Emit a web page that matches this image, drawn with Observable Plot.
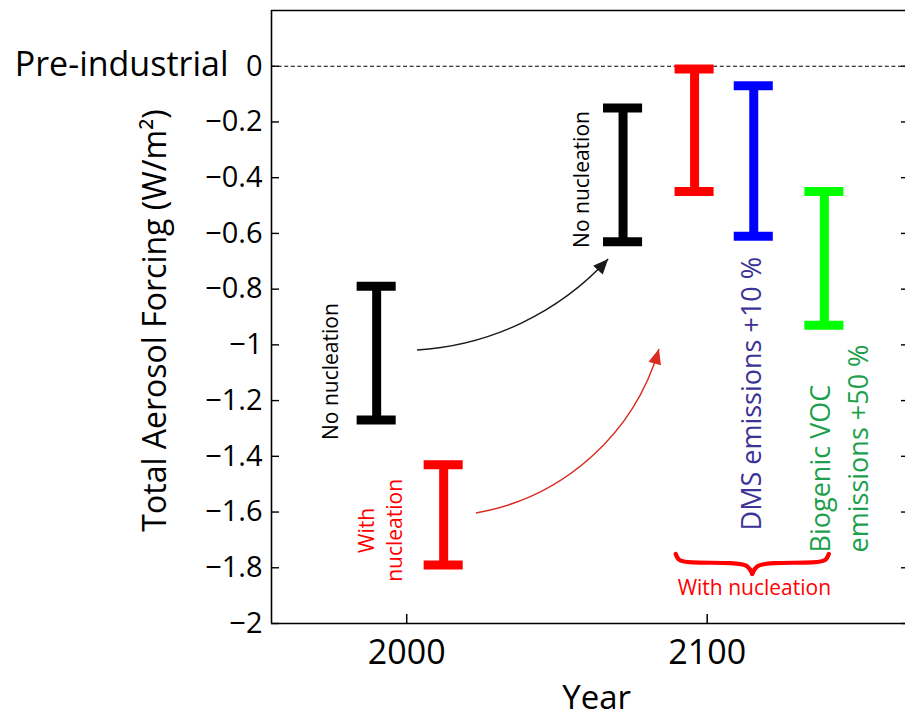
<!DOCTYPE html>
<html>
<head>
<meta charset="utf-8">
<script src="https://cdn.jsdelivr.net/npm/d3@7"></script>
<script src="https://cdn.jsdelivr.net/npm/@observablehq/plot@0.6"></script>
<style>
  html, body { margin: 0; padding: 0; background: #fff; }
  #chart svg { display: block; }
</style>
</head>
<body>
<div id="chart"></div>
<script>
// ---- data ----
const barYears  = [1990, 2012.3, 2072, 2095.8, 2115.5, 2139];
const barLow    = [-1.27, -1.79, -0.63, -0.45, -0.61, -0.93];
const barHigh   = [-0.79, -1.43, -0.15, -0.01, -0.07, -0.45];
const barColors = ["#000000", "#ff0000", "#000000", "#ff0000", "#0000ff", "#00ff00"];

const yTicks = [0, -0.2, -0.4, -0.6, -0.8, -1, -1.2, -1.4, -1.6, -1.8, -2];
const xTicks = [2000, 2100];
const xDomain = [1955, 2166];
const yDomain = [-2, 0.2];

// annotation arrows (from / to, in data units)
const arrowFromYear  = [2003.6, 2023.2];
const arrowFromValue = [-1.02, -1.605];
const arrowToYear    = [2067.2, 2084.1];
const arrowToValue   = [-0.694, -1.017];
const arrowBend      = [22, 32];
const arrowColors    = ["#1a1a1a", "#d92b1f"];

// curly brace under the 2100 "with nucleation" group
const braceYears  = [2089.5, 2090.3, 2092.5, 2110, 2113.8, 2115, 2115, 2116.2, 2120, 2137.5, 2139.7, 2140.5];
const braceValues = [-1.750, -1.772, -1.782, -1.782, -1.792, -1.822, -1.822, -1.792, -1.782, -1.782, -1.772, -1.750];
const braceSide   = ["L", "L", "L", "L", "L", "L", "R", "R", "R", "R", "R", "R"];

// annotation texts
const noteTexts  = ["No nucleation", "With\nnucleation", "No nucleation", "DMS emissions +10 %", "Biogenic VOC\nemissions +50 %", "With nucleation"];
const noteYears  = [1974.0, 1990.9, 2057.8, 2113.7, 2143.1, 2115.7];
const noteValues = [-1.096, -1.666, -0.4065, -1.666, -1.745, -1.874];
const noteColors = ["#000000", "#ff0000", "#000000", "#3b3396", "#1d9f4c", "#ff0000"];

const yTitle = "Total Aerosol Forcing (W/m²)";
const xTitle = "Year";
const refLabel = "Pre-industrial";

// ---- build tables ----
const bars = barYears.map((x, i) => ({x, low: barLow[i], high: barHigh[i], color: barColors[i]}));
const caps = bars.flatMap(b => [{x: b.x, v: b.low, color: b.color}, {x: b.x, v: b.high, color: b.color}]);
const arrows = arrowFromYear.map((x1, i) => ({x1, y1: arrowFromValue[i], x2: arrowToYear[i], y2: arrowToValue[i], bend: arrowBend[i], color: arrowColors[i]}));
const brace = braceYears.map((x, i) => ({x, y: braceValues[i], side: braceSide[i]}));
const notes = noteTexts.map((text, i) => ({text, x: noteYears[i], y: noteValues[i], color: noteColors[i]}));

const capHalf = 6.5; // years
const fmtY = d => d === 0 ? "0" : "\u2212" + Math.abs(d);

function curvedArrows(data) {
  return (index, scales) => {
    const ns = "http://www.w3.org/2000/svg";
    const g = document.createElementNS(ns, "g");
    for (const a of data) {
      const x1 = scales.x(a.x1), y1 = scales.y(a.y1), x2 = scales.x(a.x2), y2 = scales.y(a.y2);
      const dx = x2 - x1, dy = y2 - y1, d = Math.hypot(dx, dy);
      const b = a.bend * Math.PI / 180;
      const r = d / (2 * Math.sin(b));
      const phi = Math.atan2(dy, dx) - b;
      const L = 15, W = 6.5;
      const bx = x2 - L * Math.cos(phi), by = y2 - L * Math.sin(phi);
      const px = -Math.sin(phi) * W, py = Math.cos(phi) * W;
      const path = document.createElementNS(ns, "path");
      path.setAttribute("d", `M${x1},${y1}A${r},${r} 0 0,0 ${x2},${y2}`);
      path.setAttribute("fill", "none");
      path.setAttribute("stroke", a.color);
      path.setAttribute("stroke-width", 1.5);
      g.appendChild(path);
      const head = document.createElementNS(ns, "path");
      head.setAttribute("d", `M${x2},${y2}L${bx + px},${by + py}L${bx - px},${by - py}Z`);
      head.setAttribute("fill", a.color);
      g.appendChild(head);
    }
    return g;
  };
}

const chart = Plot.plot({
  width: 905,
  height: 719,
  marginLeft: 271,
  marginRight: 0,
  marginTop: 10,
  marginBottom: 96,
  style: {fontFamily: "'Open Sans', sans-serif", background: "#fff", color: "#000", overflow: "visible"},
  x: {domain: xDomain},
  y: {domain: yDomain},
  marks: [
    Plot.ruleY([0], {stroke: "#000", strokeWidth: 1.1, strokeDasharray: "4,2.6"}),
    Plot.ruleX([xDomain[0]], {stroke: "#000", strokeWidth: 1.6}),
    Plot.ruleY([yDomain[0], yDomain[1]], {stroke: "#000", strokeWidth: 1.6}),
    Plot.axisY({ticks: yTicks, tickSize: -8, tickFormat: () => "", label: null, strokeWidth: 1.4}),
    Plot.axisY({anchor: "right", ticks: yTicks, tickSize: -5, tickFormat: () => "", label: null, strokeWidth: 1.4}),
    Plot.axisY({ticks: yTicks, tickSize: 0, tickPadding: 9, tickFormat: fmtY, fontSize: 29, label: null}),
    Plot.axisX({ticks: xTicks, tickSize: -9, tickFormat: () => "", label: null, strokeWidth: 1.5}),
    Plot.axisX({ticks: xTicks, tickSize: 0, tickPadding: 16, tickFormat: d => String(d), fontSize: 34, label: null}),
    Plot.ruleX(bars, {x: "x", y1: "low", y2: "high", stroke: "color", strokeWidth: 9}),
    Plot.ruleY(caps, {y: "v", x1: d => d.x - capHalf, x2: d => d.x + capHalf, stroke: "color", strokeWidth: 9}),
    curvedArrows(arrows),
    Plot.line(brace, {x: "x", y: "y", z: "side", curve: "basis", stroke: "#ff0000", strokeWidth: 4.2, strokeLinecap: "round"}),
    Plot.text(notes.slice(0, 3), {x: "x", y: "y", text: "text", fill: "color", rotate: -90, fontSize: 21, lineHeight: 1.33}),
    Plot.text(notes.slice(3, 5), {x: "x", y: "y", text: "text", fill: "color", rotate: -90, fontSize: 27, lineHeight: 1.42, textAnchor: "start"}),
    Plot.text(notes.slice(5), {x: "x", y: "y", text: "text", fill: "color", fontSize: 21}),
    Plot.text([refLabel], {x: xDomain[0], y: 0, text: d => d, textAnchor: "end", dx: -43, dy: -1, fontSize: 34}),
    Plot.text([yTitle], {frameAnchor: "left", y: -0.9125, text: d => d, dx: -116, rotate: -90, textAnchor: "middle", lineAnchor: "middle", fontSize: 32}),
    Plot.text([xTitle], {frameAnchor: "bottom", x: 2063.2, text: d => d, dy: 75, textAnchor: "middle", lineAnchor: "middle", fontSize: 33})
  ]
});
document.getElementById("chart").appendChild(chart);
</script>
</body>
</html>
